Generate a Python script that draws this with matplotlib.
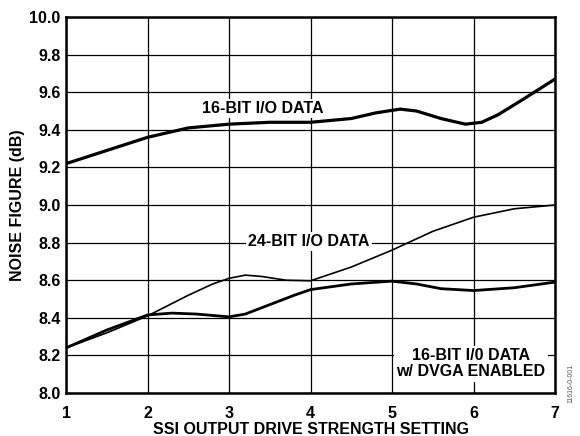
import matplotlib
matplotlib.use('Agg')
import matplotlib.pyplot as plt

plt.rcParams['font.family'] = ['Liberation Sans', 'DejaVu Sans']
plt.rcParams['font.weight'] = 'bold'

# curve data
x_16bit = [1, 1.5, 2, 2.5, 3, 3.5, 4, 4.5, 4.8, 5.1, 5.3, 5.6, 5.9, 6.1, 6.3, 6.6, 7]
nf_16bit = [9.22, 9.29, 9.36, 9.41, 9.43, 9.44, 9.44, 9.46, 9.49, 9.51, 9.50, 9.46, 9.43, 9.44, 9.48, 9.56, 9.67]

x_24bit = [1, 1.5, 2, 2.5, 2.8, 3.0, 3.2, 3.4, 3.7, 4, 4.5, 5, 5.5, 6, 6.5, 7]
nf_24bit = [8.24, 8.32, 8.41, 8.52, 8.58, 8.61, 8.627, 8.62, 8.60, 8.597, 8.67, 8.76, 8.86, 8.935, 8.98, 9.0]

x_dvga = [1, 1.5, 2, 2.3, 2.6, 3.0, 3.2, 3.5, 3.8, 4, 4.5, 5, 5.3, 5.6, 6, 6.5, 7]
nf_dvga = [8.24, 8.335, 8.415, 8.425, 8.42, 8.405, 8.42, 8.47, 8.52, 8.55, 8.58, 8.595, 8.58, 8.555, 8.545, 8.56, 8.59]

x_ticks = [1, 2, 3, 4, 5, 6, 7]
y_ticks = [8.0, 8.2, 8.4, 8.6, 8.8, 9.0, 9.2, 9.4, 9.6, 9.8, 10.0]

fs = 11.5

fig = plt.figure(figsize=(5.8, 4.36), dpi=100)
ax = fig.add_axes([0.1138, 0.0986, 0.957 - 0.1138, 0.961 - 0.0986])

ax.plot(x_16bit, nf_16bit, color='black', lw=2.3, zorder=3)
ax.plot(x_24bit, nf_24bit, color='black', lw=1.2, zorder=3)
ax.plot(x_dvga, nf_dvga, color='black', lw=2.0, zorder=3)

ax.set_xlim(1, 7)
ax.set_ylim(8.0, 10.0)
ax.set_xticks(x_ticks)
ax.set_yticks(y_ticks)
ax.set_yticklabels([f'{v:.1f}' for v in y_ticks])
ax.tick_params(length=0, labelsize=fs)
ax.tick_params(axis='x', pad=9)
ax.tick_params(axis='y', pad=4)
for lbl in ax.get_xticklabels() + ax.get_yticklabels():
    lbl.set_fontweight('bold')
ax.grid(True, color='black', lw=0.9)
ax.set_axisbelow(True)
for s in ax.spines.values():
    s.set_linewidth(1.8)

ax.set_xlabel('SSI OUTPUT DRIVE STRENGTH SETTING', fontsize=fs, fontweight='bold', labelpad=1)
ax.set_ylabel('NOISE FIGURE (dB)', fontsize=fs, fontweight='bold', labelpad=3)

box = dict(facecolor='white', edgecolor='none', pad=1.5)
ax.text(3.417, 9.515, '16-BIT I/O DATA', fontsize=fs, fontweight='bold',
        ha='center', va='center', bbox=box, zorder=4)
ax.text(3.98, 8.806, '24-BIT I/O DATA', fontsize=fs, fontweight='bold',
        ha='center', va='center', bbox=box, zorder=4)
ax.text(5.97, 8.155, '16-BIT I/0 DATA\nw/ DVGA ENABLED', fontsize=fs, fontweight='bold',
        ha='center', va='center', linespacing=1.1, bbox=box, zorder=4)

fig.text(0.985, 0.12, '11616-0-001', rotation=90, fontsize=5, color='#555555',
         ha='center', va='center', fontweight='normal')

fig.savefig('out.png', dpi=100)
